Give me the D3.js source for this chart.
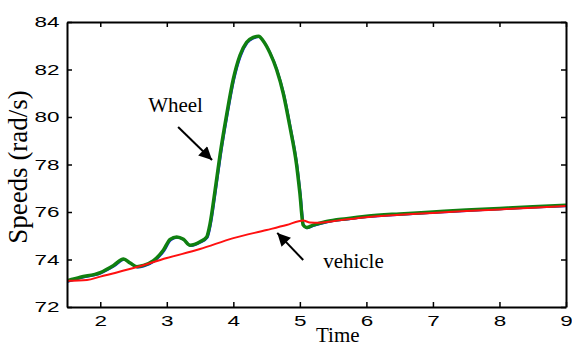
<!DOCTYPE html>
<html>
<head>
<meta charset="utf-8">
<script src="https://cdn.jsdelivr.net/npm/d3@7"></script>
<style>
  body { margin: 0; background: #fff; }
  .tick text { font-family: "Liberation Sans", Arial, sans-serif; font-size: 15px; fill: #000; }
</style>
</head>
<body>
<div id="chart"></div>
<script>
// time (s) and speeds (rad/s)
var wheelT = [1.5, 1.7, 2.0, 2.2, 2.35, 2.45, 2.55, 2.65, 2.8, 2.95, 3.05, 3.15, 3.25, 3.35, 3.5, 3.6, 3.65, 3.72, 3.8, 3.9, 4.0, 4.1, 4.2, 4.3, 4.38, 4.45, 4.55, 4.65, 4.75, 4.85, 4.95, 5.0, 5.05, 5.1, 5.2, 5.4, 5.7, 6.0, 6.5, 7.0, 7.5, 8.0, 8.5, 9.0];
var wheelV = [73.1, 73.25, 73.45, 73.75, 74.02, 73.85, 73.7, 73.75, 73.95, 74.4, 74.85, 74.95, 74.85, 74.6, 74.75, 74.95, 75.5, 76.8, 78.4, 80.1, 81.6, 82.6, 83.15, 83.35, 83.4, 83.2, 82.7, 82.0, 81.0, 79.6, 78.0, 76.8, 75.45, 75.35, 75.45, 75.6, 75.72, 75.82, 75.92, 76.0, 76.08, 76.15, 76.22, 76.28];

var vehicleT = [1.5, 1.8, 2.0, 2.5, 3.0, 3.5, 4.0, 4.5, 4.8, 5.05, 5.15, 5.3, 5.6, 6.0, 6.5, 7.0, 7.5, 8.0, 8.5, 9.0];
var vehicleV = [73.1, 73.14, 73.28, 73.64, 74.06, 74.44, 74.9, 75.24, 75.45, 75.64, 75.56, 75.55, 75.65, 75.78, 75.88, 75.96, 76.04, 76.11, 76.18, 76.25];

var xTicks = [2, 3, 4, 5, 6, 7, 8, 9];
var yTicks = [72, 74, 76, 78, 80, 82, 84];

// annotations: [label, labelT, labelV, arrow from (t,v), arrow to (t,v)]
var notes = [
  ["Wheel", 2.72, 80.21, [3.17, 79.58], [3.68, 78.19]],
  ["vehicle", 5.35, 73.64, [5.05, 73.98], [4.66, 75.12]]
];

var W = 572, H = 347;
var margin = {top: 22, right: 6, bottom: 40, left: 67};
var width = W - margin.left - margin.right,
    height = H - margin.top - margin.bottom;

var svg = d3.select("#chart").append("svg")
    .attr("width", W)
    .attr("height", H);

svg.append("defs").append("marker")
    .attr("id", "head")
    .attr("viewBox", "0 0 10 10")
    .attr("refX", 10)
    .attr("refY", 5)
    .attr("markerUnits", "userSpaceOnUse")
    .attr("markerWidth", 15)
    .attr("markerHeight", 13)
    .attr("orient", "auto")
    .append("path")
    .attr("d", "M0,0 L10,5 L0,10 Z")
    .attr("fill", "#000");

var g = svg.append("g")
    .attr("transform", "translate(" + margin.left + "," + margin.top + ")");

var x = d3.scaleLinear().domain([1.5, 9]).range([0, width]);
var y = d3.scaleLinear().domain([72, 84]).range([height, 0]);

var line = d3.line()
    .x(function(d) { return x(d[0]); })
    .y(function(d) { return y(d[1]); })
    .curve(d3.curveMonotoneX);

var wheel = wheelT.map(function(t, i) { return [t, wheelV[i]]; });
var vehicle = vehicleT.map(function(t, i) { return [t, vehicleV[i]]; });

g.append("defs").append("clipPath").attr("id", "clip")
  .append("rect").attr("width", width).attr("height", height);

var plot = g.append("g").attr("clip-path", "url(#clip)");

// blue trace sits just under the green one
plot.append("path")
    .datum(wheel)
    .attr("d", line)
    .attr("transform", "translate(0.8,0.8)")
    .attr("fill", "none")
    .attr("stroke", "#1a1aff")
    .attr("stroke-width", 2);

plot.append("path")
    .datum(wheel)
    .attr("d", line)
    .attr("fill", "none")
    .attr("stroke", "#108010")
    .attr("stroke-width", 3.5);

plot.append("path")
    .datum(vehicle)
    .attr("d", line)
    .attr("fill", "none")
    .attr("stroke", "#ff1010")
    .attr("stroke-width", 2);

// axes, ticks pointing inward on all four sides
g.append("g")
    .attr("transform", "translate(0," + height + ")")
    .call(d3.axisBottom(x).tickValues(xTicks).tickSizeInner(-5).tickSizeOuter(0).tickPadding(8));
g.append("g")
    .call(d3.axisTop(x).tickValues(xTicks).tickSizeInner(-5).tickSizeOuter(0).tickFormat(""));
g.append("g")
    .call(d3.axisLeft(y).tickValues(yTicks).tickSizeInner(-5).tickSizeOuter(0).tickPadding(5));
g.append("g")
    .attr("transform", "translate(" + width + ",0)")
    .call(d3.axisRight(y).tickValues(yTicks).tickSizeInner(-5).tickSizeOuter(0).tickFormat(""));

g.selectAll(".domain").attr("stroke", "#000").attr("stroke-width", 2);
g.selectAll(".tick line").attr("stroke", "#000").attr("stroke-width", 1.5);
// the tick digits in the original are a wide face
g.selectAll(".tick text").attr("transform", "scale(1.5,1)");

// annotations
notes.forEach(function(n) {
  g.append("text")
      .attr("x", x(n[1]))
      .attr("y", y(n[2]))
      .attr("font-family", "Liberation Serif, Times New Roman, serif")
      .attr("font-size", 21)
      .text(n[0]);
  g.append("line")
      .attr("x1", x(n[3][0])).attr("y1", y(n[3][1]))
      .attr("x2", x(n[4][0])).attr("y2", y(n[4][1]))
      .attr("stroke", "#000")
      .attr("stroke-width", 2)
      .attr("marker-end", "url(#head)");
});

// axis titles
svg.append("text")
    .attr("transform", "translate(27,167) rotate(-90)")
    .attr("text-anchor", "middle")
    .attr("font-family", "Liberation Serif, Times New Roman, serif")
    .attr("font-size", 27)
    .text("Speeds (rad/s)");

svg.append("text")
    .attr("x", margin.left + x(5.57))
    .attr("y", 342)
    .attr("text-anchor", "middle")
    .attr("font-family", "Liberation Serif, Times New Roman, serif")
    .attr("font-size", 21)
    .text("Time");
</script>
</body>
</html>
